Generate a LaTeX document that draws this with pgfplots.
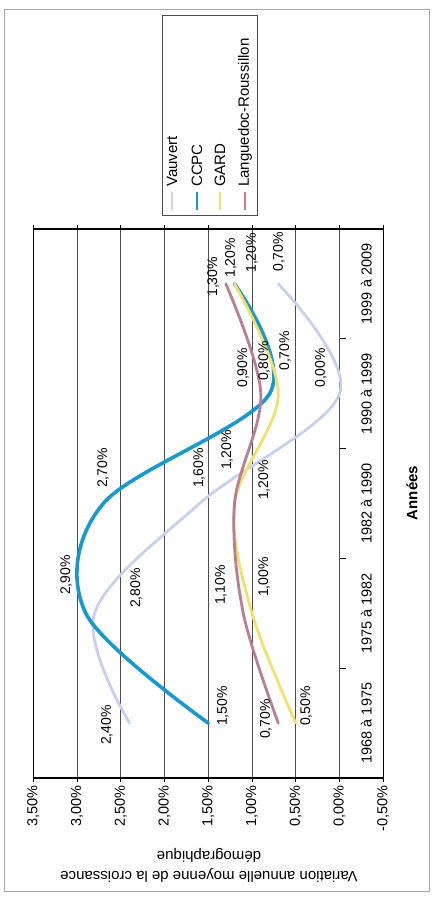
\documentclass[border=0pt]{standalone}
\usepackage{fontspec}
\setmainfont{Liberation Sans}
\usepackage{pgfplots}
\pgfplotsset{compat=1.18}
\usepackage{pgfplotstable}
\definecolor{cVau}{RGB}{200,208,240}
\definecolor{cCCPC}{RGB}{22,152,208}
\definecolor{cGARD}{RGB}{243,223,108}
\definecolor{cLR}{RGB}{185,125,150}

\pgfplotstableread{
cat Vauvert CCPC GARD LR
0 2.4 1.5 0.5 0.7
1 2.8 2.9 1.0 1.1
2 1.6 2.7 1.2 1.2
3 0.0 0.8 0.7 0.9
4 0.7 1.2 1.2 1.3
}\data

\begin{document}
\begin{tikzpicture}[font=\fontsize{14}{16}\selectfont]
\path[use as bounding box] (0pt,0pt) rectangle (434pt,900pt);
\draw[black!35, line width=1pt] (4pt,8pt) rectangle (429pt,890pt);
\begin{axis}[
  at={(33.3pt,122pt)}, anchor=south west,
  scale only axis, width=350pt, height=549pt,
  xmin=-0.5, xmax=3.5, x dir=reverse,
  ymin=-0.5, ymax=4.5,
  xtick={-0.5,0,0.5,1,1.5,2,2.5,3,3.5},
  xticklabels={{-0,50\%},{0,00\%},{0,50\%},{1,00\%},{1,50\%},{2,00\%},{2,50\%},{3,00\%},{3,50\%}},
  xticklabel style={rotate=90, anchor=east},
  ytick={0,1,2,3,4},
  yticklabels={1968 à 1975,1975 à 1982,1982 à 1990,1990 à 1999,1999 à 2009},
  yticklabel pos=right,
  yticklabel style={xshift=-21pt, rotate=90, anchor=center},
  ytick style={draw=none},
  xtick style={black, line width=0.8pt},
  tick align=outside, major tick length=4pt,
  xmajorgrids, major grid style={black!70, line width=0.7pt},
  axis line style={black, line width=1.3pt},
  tick label style={font=\fontsize{14.5}{16}\selectfont},
  every axis plot/.append style={smooth, tension=0.55, line cap=round},
]
\pgfplotsinvokeforeach{0.5,1.5,2.5,3.5}{\draw[black, line width=0.8pt] (axis cs:0,#1) -- (axis cs:-0.07,#1);}
\addplot[cVau, line width=2.8pt] table[x=Vauvert, y=cat] {\data};
\addplot[cCCPC, line width=3.6pt] table[x=CCPC, y=cat] {\data};
\addplot[cGARD, line width=2.8pt] table[x=GARD, y=cat] {\data};
\addplot[cLR, line width=2.8pt] table[x=LR, y=cat] {\data};
% data labels
\node[rotate=90] at (axis cs:2.658,-0.018) {2,40\%};
\node[rotate=90] at (axis cs:1.332,0.155) {1,50\%};
\node[rotate=90] at (axis cs:0.841,0.036) {0,70\%};
\node[rotate=90] at (axis cs:0.383,0.155) {0,50\%};
\node[rotate=90] at (axis cs:3.126,1.349) {2,90\%};
\node[rotate=90] at (axis cs:2.326,1.230) {2,80\%};
\node[rotate=90] at (axis cs:1.355,1.257) {1,10\%};
\node[rotate=90] at (axis cs:0.863,1.330) {1,00\%};
\node[rotate=90] at (axis cs:2.703,2.323) {2,70\%};
\node[rotate=90] at (axis cs:1.606,2.323) {1,60\%};
\node[rotate=90] at (axis cs:1.286,2.487) {1,20\%};
\node[rotate=90] at (axis cs:0.863,2.214) {1,20\%};
\node[rotate=90] at (axis cs:1.103,3.235) {0,90\%};
\node[rotate=90] at (axis cs:0.863,3.298) {0,80\%};
\node[rotate=90] at (axis cs:0.623,3.390) {0,70\%};
\node[rotate=90] at (axis cs:0.212,3.235) {0,00\%};
\node[rotate=90] at (axis cs:1.446,4.064) {1,30\%};
\node[rotate=90] at (axis cs:1.241,4.237) {1,20\%};
\node[rotate=90] at (axis cs:1.001,4.282) {1,20\%};
\node[rotate=90] at (axis cs:0.692,4.292) {0,70\%};
\end{axis}
% axis titles
\node[rotate=180, align=center, font=\fontsize{15}{20}\selectfont] at (209pt,35pt) {Variation annuelle moyenne de la croissance\\démographique};
\node[rotate=90, font=\fontsize{15}{18}\selectfont\bfseries] at (412pt,407pt) {Années};
% legend
\draw[black!70, line width=0.8pt] (162pt,685pt) rectangle (257pt,885pt);
\begin{scope}[line width=2.6pt]
\draw[cVau] (172pt,690pt) -- (172pt,708pt);
\draw[cCCPC] (197pt,690pt) -- (197pt,708pt);
\draw[cGARD] (220pt,690pt) -- (220pt,708pt);
\draw[cLR] (245pt,690pt) -- (245pt,708pt);
\end{scope}
\begin{scope}[every node/.style={rotate=90, anchor=west, inner sep=0pt, font=\fontsize{15}{18}\selectfont}]
\node at (172pt,713pt) {Vauvert};
\node at (197pt,713pt) {CCPC};
\node at (220pt,713pt) {GARD};
\node at (245pt,713pt) {Languedoc-Roussillon};
\end{scope}
\end{tikzpicture}
\end{document}
